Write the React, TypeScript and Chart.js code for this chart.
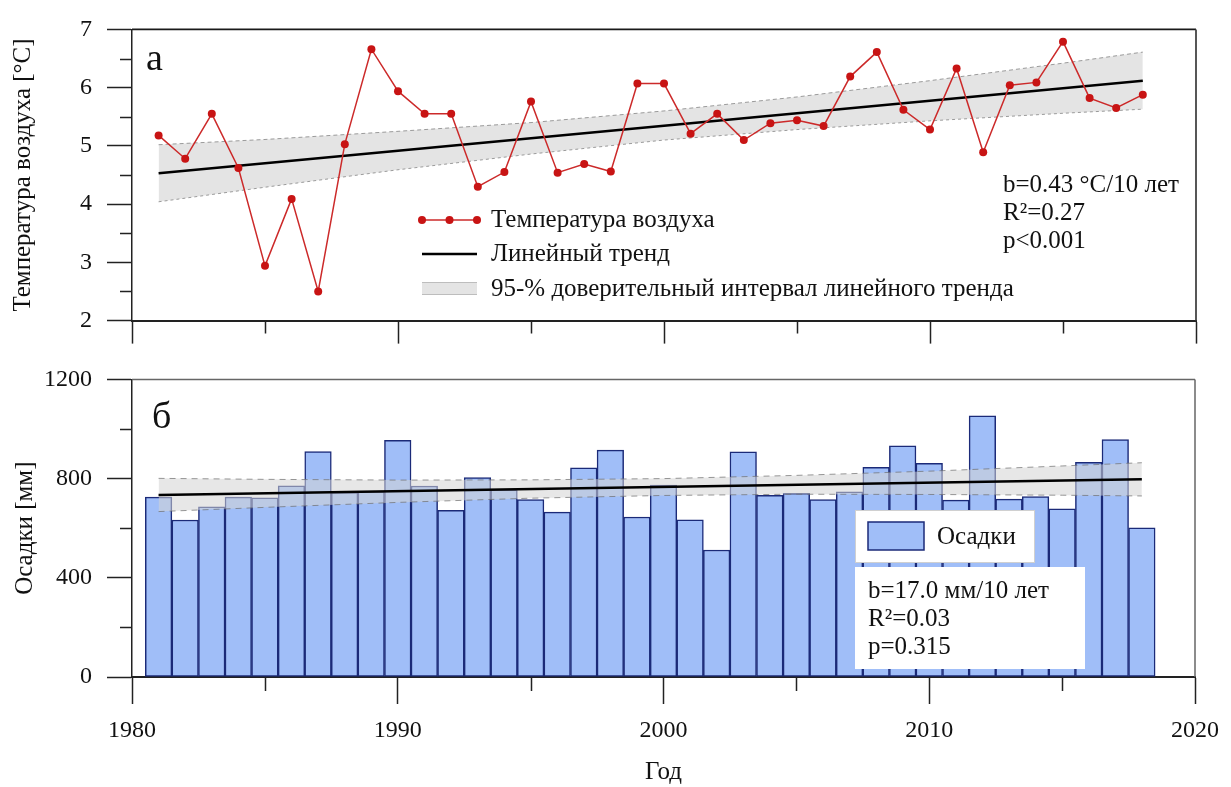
import { useEffect, useRef } from "react";
import { Chart, registerables } from "chart.js";

Chart.register(...registerables);

// ---- data -------------------------------------------------------------
const years = [
  1981, 1982, 1983, 1984, 1985, 1986, 1987, 1988, 1989, 1990,
  1991, 1992, 1993, 1994, 1995, 1996, 1997, 1998, 1999, 2000,
  2001, 2002, 2003, 2004, 2005, 2006, 2007, 2008, 2009, 2010,
  2011, 2012, 2013, 2014, 2015, 2016, 2017, 2018,
];

// mean annual air temperature, °C
const temperature = [
  5.18, 4.78, 5.55, 4.62, 2.94, 4.09, 2.5, 5.03, 6.66, 5.94,
  5.55, 5.55, 4.3, 4.55, 5.76, 4.54, 4.69, 4.56, 6.07, 6.07,
  5.21, 5.55, 5.1, 5.39, 5.44, 5.34, 6.19, 6.61, 5.62, 5.28,
  6.33, 4.89, 6.04, 6.09, 6.79, 5.82, 5.65, 5.88,
];

// annual precipitation, mm
const precipitation = [
  725, 633, 686, 725, 722, 771, 909, 745, 748, 954,
  770, 672, 804, 755, 715, 665, 843, 915, 645, 774,
  634, 512, 908, 733, 741, 715, 747, 845, 932, 862,
  713, 1053, 717, 728, 678, 866, 957, 601,
];

// linear trends (endpoints)
const trendYears = [1981, 2018];
const temperatureTrend = [4.53, 6.12];
const precipitationTrend = [734, 797];

// 95% confidence band of the trends
const bandYears = [1981, 1985, 1990, 1995, 2000, 2005, 2010, 2015, 2018];
const temperatureUpper = [5.02, 5.11, 5.25, 5.4, 5.6, 5.84, 6.12, 6.42, 6.61];
const temperatureLower = [4.04, 4.29, 4.59, 4.86, 5.1, 5.28, 5.43, 5.56, 5.63];
const precipitationUpper = [801, 797, 794, 795, 800, 813, 830, 851, 864];
const precipitationLower = [667, 684, 704, 721, 732, 737, 736, 733, 730];

// axis ticks
const yearTicks = [1980, 1990, 2000, 2010, 2020];
const yearMinorTicks = [1985, 1995, 2005, 2015];
const temperatureTicks = [2, 3, 4, 5, 6, 7];
const temperatureMinorTicks = [2.5, 3.5, 4.5, 5.5, 6.5];
const precipitationTicks = [0, 400, 800, 1200];
const precipitationMinorTicks = [200, 600, 1000];

// texts
const temperatureStats = ["b=0.43 °C/10 лет", "R²=0.27", "p<0.001"];
const precipitationStats = ["b=17.0 мм/10 лет", "R²=0.03", "p=0.315"];

// ---- styles -----------------------------------------------------------
const SERIF = "'Liberation Serif', 'Times New Roman', serif";
const INK = "#111";
const AXIS = "#222";
const RED_LINE = "#cc2a2a";
const RED_POINT = "#c81414";
const BAND_FILL = "#e4e4e4";
const BAND_EDGE = "#9a9a9a";
const BAR_FILL = "#a0bef8";
const BAR_EDGE = "#1b2a78";
const TEXT_SIZE = 25;

const W = 1231;
const TOP_H = 350;
const BOTTOM_H = 437;

const xy = (xs: number[], ys: number[]) => xs.map((x, i) => ({ x, y: ys[i] }));

// draws the shorter, unlabelled ticks between the labelled ones
const minorTicks = {
  id: "minorTicks",
  afterDraw(chart: any, _args: any, opts: any) {
    const { ctx } = chart;
    const xs = chart.scales.x;
    const ys = chart.scales.y;
    ctx.save();
    ctx.strokeStyle = AXIS;
    ctx.lineWidth = 1.5;
    ctx.beginPath();
    for (const v of opts.x || []) {
      const px = Math.round(xs.getPixelForValue(v)) + 0.5;
      ctx.moveTo(px, xs.top);
      ctx.lineTo(px, xs.top + opts.xLength);
    }
    for (const v of opts.y || []) {
      const py = Math.round(ys.getPixelForValue(v)) + 0.5;
      ctx.moveTo(ys.right - opts.yLength, py);
      ctx.lineTo(ys.right, py);
    }
    ctx.stroke();
    ctx.restore();
  },
};

// closes the plot box on the top and right sides
const frame = {
  id: "frame",
  afterDraw(chart: any, _args: any, opts: any) {
    const { ctx, chartArea: a } = chart;
    ctx.save();
    ctx.lineWidth = opts.width || 1.5;
    ctx.strokeStyle = opts.topColor || AXIS;
    ctx.beginPath();
    ctx.moveTo(a.left, a.top);
    ctx.lineTo(a.right, a.top);
    ctx.stroke();
    ctx.strokeStyle = opts.rightColor || "#666";
    ctx.beginPath();
    ctx.moveTo(a.right, a.top);
    ctx.lineTo(a.right, a.bottom);
    ctx.stroke();
    ctx.restore();
  },
};

const text = (ctx: any, s: string, x: number, y: number, size = TEXT_SIZE, baseline = "middle") => {
  ctx.font = `${size}px ${SERIF}`;
  ctx.fillStyle = INK;
  ctx.textAlign = "left";
  ctx.textBaseline = baseline;
  ctx.fillText(s, x, y);
};

const temperatureDecor = {
  id: "temperatureDecor",
  afterDraw(chart: any) {
    const { ctx } = chart;
    ctx.save();
    text(ctx, "а", 146, 70, 38, "alphabetic");

    // legend
    const x0 = 422;
    const x1 = 477;
    ctx.strokeStyle = RED_LINE;
    ctx.lineWidth = 1.5;
    ctx.beginPath();
    ctx.moveTo(x0, 220);
    ctx.lineTo(x1, 220);
    ctx.stroke();
    ctx.fillStyle = RED_POINT;
    for (const px of [x0, (x0 + x1) / 2, x1]) {
      ctx.beginPath();
      ctx.arc(px, 220, 4, 0, Math.PI * 2);
      ctx.fill();
    }
    text(ctx, "Температура воздуха", 491, 220);

    ctx.strokeStyle = "#000";
    ctx.lineWidth = 2.5;
    ctx.beginPath();
    ctx.moveTo(x0, 254);
    ctx.lineTo(x1, 254);
    ctx.stroke();
    text(ctx, "Линейный тренд", 491, 254);

    ctx.fillStyle = BAND_FILL;
    ctx.fillRect(x0, 282, x1 - x0, 13);
    ctx.strokeStyle = "#bdbdbd";
    ctx.lineWidth = 1;
    ctx.beginPath();
    ctx.moveTo(x0, 282.5);
    ctx.lineTo(x1, 282.5);
    ctx.moveTo(x0, 294.5);
    ctx.lineTo(x1, 294.5);
    ctx.stroke();
    text(ctx, "95-% доверительный интервал линейного тренда", 491, 289);

    temperatureStats.forEach((s, i) => text(ctx, s, 1003, 185 + i * 28));
    ctx.restore();
  },
};

const precipitationDecor = {
  id: "precipitationDecor",
  afterDraw(chart: any) {
    const { ctx } = chart;
    ctx.save();
    text(ctx, "б", 152, 78, 38, "alphabetic");

    // legend box
    ctx.fillStyle = "#fff";
    ctx.fillRect(855, 160, 179, 52);
    ctx.strokeStyle = "#d0d0d0";
    ctx.lineWidth = 1;
    ctx.strokeRect(855.5, 160.5, 179, 52);
    ctx.fillStyle = BAR_FILL;
    ctx.fillRect(868, 172, 56, 28);
    ctx.strokeStyle = BAR_EDGE;
    ctx.lineWidth = 1.5;
    ctx.strokeRect(868, 172, 56, 28);
    text(ctx, "Осадки", 937, 187);

    // statistics box
    ctx.fillStyle = "#fff";
    ctx.fillRect(855, 217, 230, 102);
    precipitationStats.forEach((s, i) => text(ctx, s, 868, 241 + i * 28));
    ctx.restore();
  },
};

const axisGrid = (tickLength: number) => ({
  drawOnChartArea: false,
  drawTicks: true,
  tickLength,
  tickColor: AXIS,
  tickWidth: 1.5,
});

const axisBorder = { display: true, color: AXIS, width: 1.5 };

const fixedTicks = (values: number[]) => (scale: any) => {
  scale.ticks = values.map((value) => ({ value }));
};

function temperatureConfig(): any {
  return {
    type: "line",
    data: {
      datasets: [
        {
          label: "Температура воздуха",
          data: xy(years, temperature),
          borderColor: RED_LINE,
          borderWidth: 1.5,
          pointRadius: 4,
          pointBackgroundColor: RED_POINT,
          pointBorderColor: RED_POINT,
          pointBorderWidth: 0,
          tension: 0,
          order: 0,
        },
        {
          label: "Линейный тренд",
          data: xy(trendYears, temperatureTrend),
          borderColor: "#000",
          borderWidth: 2.5,
          pointRadius: 0,
          order: 1,
        },
        {
          label: "upper",
          data: xy(bandYears, temperatureUpper),
          borderColor: BAND_EDGE,
          borderWidth: 1,
          borderDash: [4, 3],
          pointRadius: 0,
          fill: "+1",
          backgroundColor: BAND_FILL,
          order: 3,
        },
        {
          label: "lower",
          data: xy(bandYears, temperatureLower),
          borderColor: BAND_EDGE,
          borderWidth: 1,
          borderDash: [3, 3],
          pointRadius: 0,
          fill: false,
          order: 2,
        },
      ],
    },
    options: {
      animation: false,
      responsive: false,
      devicePixelRatio: 1,
      layout: { padding: { top: 17, right: 35, bottom: 0, left: 0 } },
      plugins: {
        legend: { display: false },
        tooltip: { enabled: false },
        minorTicks: { x: yearMinorTicks, xLength: 13, y: temperatureMinorTicks, yLength: 12 },
        frame: { topColor: "#1a1a1a", rightColor: "#444", width: 1.8 },
      },
      scales: {
        x: {
          type: "linear",
          min: 1980,
          max: 2020,
          afterBuildTicks: fixedTicks(yearTicks),
          ticks: { display: false },
          grid: axisGrid(23),
          border: { ...axisBorder, width: 2 },
          afterFit: (s: any) => {
            s.height = TOP_H - 322;
          },
        },
        y: {
          type: "linear",
          min: 2,
          max: 7,
          afterBuildTicks: fixedTicks(temperatureTicks),
          ticks: {
            font: { size: 24, family: SERIF },
            color: INK,
            padding: 15,
            callback: (v: number) => String(v),
          },
          grid: axisGrid(25),
          border: axisBorder,
          title: {
            display: true,
            text: "Температура воздуха [°C]",
            font: { size: TEXT_SIZE, family: SERIF },
            color: INK,
            padding: { top: 8, bottom: 0 },
          },
          afterFit: (s: any) => {
            s.width = 132;
          },
        },
      },
    },
    plugins: [minorTicks, frame, temperatureDecor],
  };
}

function precipitationConfig(): any {
  return {
    type: "bar",
    data: {
      datasets: [
        {
          type: "bar",
          label: "Осадки",
          data: xy(years, precipitation),
          backgroundColor: BAR_FILL,
          borderColor: BAR_EDGE,
          borderWidth: 1.5,
          borderSkipped: false,
          barPercentage: 1,
          categoryPercentage: 1,
          order: 10,
        },
        {
          type: "line",
          label: "Линейный тренд",
          data: xy(trendYears, precipitationTrend),
          borderColor: "#000",
          borderWidth: 2.5,
          pointRadius: 0,
          order: 0,
        },
        {
          type: "line",
          label: "upper",
          data: xy(bandYears, precipitationUpper),
          borderColor: "rgba(110,110,110,0.7)",
          borderWidth: 1,
          borderDash: [6, 5],
          pointRadius: 0,
          fill: "+1",
          backgroundColor: "rgba(212,212,212,0.55)",
          order: 3,
        },
        {
          type: "line",
          label: "lower",
          data: xy(bandYears, precipitationLower),
          borderColor: "rgba(110,110,110,0.7)",
          borderWidth: 1,
          borderDash: [6, 5],
          pointRadius: 0,
          fill: false,
          order: 2,
        },
      ],
    },
    options: {
      animation: false,
      responsive: false,
      devicePixelRatio: 1,
      layout: { padding: { top: 23, right: 35, bottom: 0, left: 0 } },
      plugins: {
        legend: { display: false },
        tooltip: { enabled: false },
        minorTicks: { x: yearMinorTicks, xLength: 14, y: precipitationMinorTicks, yLength: 12 },
        frame: { topColor: "#666", rightColor: "#666", width: 1.5 },
      },
      scales: {
        x: {
          type: "linear",
          min: 1980,
          max: 2020,
          offset: false,
          afterBuildTicks: fixedTicks(yearTicks),
          ticks: {
            font: { size: 24, family: SERIF },
            color: INK,
            padding: 12,
            maxRotation: 0,
            callback: (v: number) => String(v),
          },
          grid: { ...axisGrid(27), offset: false },
          border: { ...axisBorder, width: 2 },
          title: {
            display: true,
            text: "Год",
            font: { size: TEXT_SIZE, family: SERIF },
            color: INK,
            padding: { top: 0, bottom: 0 },
          },
          afterFit: (s: any) => {
            s.height = BOTTOM_H - (677 - TOP_H);
          },
        },
        y: {
          type: "linear",
          min: 0,
          max: 1200,
          afterBuildTicks: fixedTicks(precipitationTicks),
          ticks: {
            font: { size: 24, family: SERIF },
            color: INK,
            padding: 15,
            callback: (v: number) => String(v),
          },
          grid: axisGrid(25),
          border: axisBorder,
          title: {
            display: true,
            text: "Осадки [мм]",
            font: { size: TEXT_SIZE, family: SERIF },
            color: INK,
            padding: { top: 10, bottom: 0 },
          },
          afterFit: (s: any) => {
            s.width = 132;
          },
        },
      },
    },
    plugins: [minorTicks, frame, precipitationDecor],
  };
}

export default function App() {
  const topRef = useRef<HTMLCanvasElement>(null);
  const bottomRef = useRef<HTMLCanvasElement>(null);

  useEffect(() => {
    const top = new Chart(topRef.current as HTMLCanvasElement, temperatureConfig());
    const bottom = new Chart(bottomRef.current as HTMLCanvasElement, precipitationConfig());
    return () => {
      top.destroy();
      bottom.destroy();
    };
  }, []);

  return (
    <div style={{ position: "fixed", left: 0, top: 0, width: W, height: 787, background: "#fff" }}>
      <canvas
        ref={topRef}
        width={W}
        height={TOP_H}
        style={{ position: "absolute", left: 0, top: 0, width: W, height: TOP_H }}
      />
      <canvas
        ref={bottomRef}
        width={W}
        height={BOTTOM_H}
        style={{ position: "absolute", left: 0, top: TOP_H, width: W, height: BOTTOM_H }}
      />
    </div>
  );
}
